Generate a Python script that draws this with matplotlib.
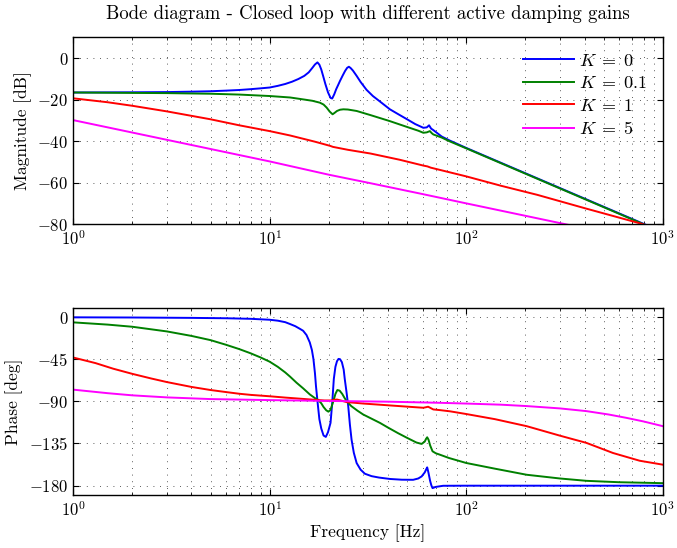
import matplotlib
matplotlib.use("Agg")
import matplotlib.pyplot as plt

plt.rcParams["font.family"] = "serif"
plt.rcParams["font.serif"] = ["cmr10", "DejaVu Serif"]
plt.rcParams["mathtext.fontset"] = "cm"
plt.rcParams["axes.formatter.use_mathtext"] = True
plt.rcParams["axes.unicode_minus"] = True

# Magnitude curves [dB]
f_mag_k0 = [1, 2, 3, 4, 5, 6, 7, 8, 9, 10, 11, 12, 13, 14, 15, 15.8, 16.5, 17.0, 17.5, 17.9,
            18.3, 18.7, 19.2, 19.8, 20.4, 20.8, 21.3, 21.8, 22.3, 22.8, 23.5, 24.2, 24.8, 25.3,
            25.8, 26.5, 27.7, 29, 31.1, 33.5, 35.9, 40.9, 45, 50, 55, 60.5, 63.0, 64.7, 66.3,
            68, 75, 82.7, 100, 200, 400, 800, 1000]
mag_k0 = [-16.6, -16.5, -16.4, -16.2, -16.0, -15.7, -15.4, -15.0, -14.6, -14.2, -13.4, -12.5,
          -11.4, -10.1, -8.6, -6.9, -4.7, -3.1, -2.1, -3.2, -5.5, -8.6, -12.5, -16.5, -19.2,
          -19.5, -17.5, -15.0, -13.0, -11.0, -8.5, -6.2, -4.7, -4.2, -4.8, -6.0, -8.6, -11.5,
          -15.3, -18.3, -20.5, -24.7, -27.0, -29.5, -31.8, -33.6, -33.4, -32.4, -34.0,
          -34.7, -37.8, -39.8, -43.3, -55.5, -67.7, -79.9, -83.8]

f_mag_k01 = [1, 2, 3, 5, 7, 10, 12.7, 15, 16.5, 18, 18.8, 19.5, 20.2, 20.9, 21.4, 22.0, 22.8,
             23.7, 25, 27.7, 32.6, 40.9, 50, 57, 60.5, 63, 65.3, 66.8, 68, 75, 82.7, 100, 200,
             400, 800, 1000]
mag_k01 = [-16.6, -16.8, -16.9, -17.2, -17.6, -18.3, -19.0, -20.0, -20.6, -21.5, -22.4, -23.9,
           -25.8, -27.1, -26.4, -25.5, -24.9, -24.7, -24.8, -25.5, -27.5, -30.4, -33.2, -35.0,
           -36.0, -35.8, -35.2, -36.2, -36.8, -38.3, -40.2, -43.5, -55.7, -67.9, -80.1, -84.0]

f_mag_k1 = [1, 1.5, 2, 3, 5, 7, 10, 12.7, 17, 20.3, 21, 25, 32.6, 45.9, 60.5, 63.5, 66, 100,
            150, 230, 400, 764, 1000]
mag_k1 = [-19.4, -21.3, -23.0, -25.7, -29.5, -32.4, -35.2, -37.3, -40.3, -42.3, -42.8, -44.2,
          -46.0, -49.0, -51.8, -52.2, -52.8, -57.0, -61.5, -65.9, -72.3, -79.6, -83.0]

f_mag_k5 = [1, 10, 20, 32.6, 60.5, 100, 318, 1000]
mag_k5 = [-29.9, -49.8, -56.2, -60.3, -65.6, -70.0, -80.0, -90.0]

# Phase curves [deg]
f_ph_k0 = [1, 2, 4, 6, 8, 10, 11, 12, 12.7, 13.5, 14.3, 14.8, 15.4, 16.0, 16.4, 16.7, 17.0,
           17.2, 17.55, 17.9, 18.3, 18.8, 19.3, 19.8, 20.4, 20.8, 21.2, 21.6, 22.0, 22.4, 22.8,
           23.3, 23.8, 24.1, 24.6, 25.1, 25.6, 26.1, 26.8, 27.7, 29, 30.5, 33, 36, 40.9, 47,
           53.7, 57, 59.3, 61.5, 62.8, 63.3, 64.2, 65.5, 66.5, 67.4, 70, 76.3, 100, 1000]
ph_k0 = [0, -0.2, -0.6, -1.0, -1.6, -2.6, -3.6, -5.2, -7.2, -9.5, -12.5, -14.4, -19.0, -26.9,
         -35, -44.8, -60, -73.5, -92, -109, -119, -126.5, -128, -123, -113, -92, -66, -53, -47,
         -44.5, -44.8, -48, -56, -66, -80, -95, -115, -131, -145, -156, -163, -167.4, -170,
         -171.5, -173, -173.8, -173.9, -172.5, -170.3, -166, -162, -160.6, -166, -175, -180,
         -182.8, -181.5, -180.3, -180.2, -180.2]

f_ph_k01 = [1, 1.5, 2, 3, 4, 5, 6, 7, 8, 9, 10, 11, 12, 12.7, 13.7, 14.8, 16, 17, 17.7, 18.3,
            18.8, 19.4, 19.9, 20.4, 21, 21.6, 22.1, 22.7, 23.4, 24.0, 24.6, 26, 28, 29.9, 33,
            36.4, 40, 45, 50, 55.8, 59.3, 61.5, 62.5, 63.3, 64.3, 65.5, 67.4, 70, 73.4, 81.8,
            100, 140, 203, 300, 409, 600, 1000]
ph_k01 = [-5.4, -7.8, -10.1, -15.1, -19.9, -24.4, -29.4, -34, -38.5, -43, -47.5, -53, -59,
          -63.5, -70, -76, -82.5, -86.5, -88.6, -92, -96, -99.5, -101, -99, -91, -82, -77.8,
          -78.5, -82, -86, -89.6, -95, -100, -104, -108.5, -113, -118, -124, -129, -134, -135.5,
          -133, -130, -128.4, -131, -137, -143.4, -145.5, -147, -150.6, -155.9, -162, -168.5,
          -172.5, -175, -176.5, -177.5]

f_ph_k1 = [1, 1.3, 1.6, 2, 2.5, 3, 4, 5, 6, 7, 8, 10, 12, 14.3, 17, 19, 20.5, 21.5, 22, 23,
           24.6, 30, 40.9, 50, 60.5, 62.5, 64, 65.5, 68, 73.4, 82.7, 100, 140, 203, 299, 409,
           558, 763, 1000]
ph_k1 = [-43, -49, -55, -60.5, -65.5, -69.3, -74.5, -77.8, -80, -81.8, -83, -84.5, -85.9,
         -87.1, -88.3, -89, -89, -88.2, -88, -89, -90.7, -92.3, -94.3, -95.6, -96.8, -96.2,
         -95.7, -96.8, -98.6, -99.3, -100.6, -103.5, -109, -116.5, -126.6, -134.4, -145.2,
         -153.5, -157.7]

f_ph_k5 = [1, 1.5, 2, 3, 5, 10, 20, 40, 73.4, 100, 150, 203, 300, 409, 530, 653, 800, 1000]
ph_k5 = [-77.4, -81.2, -83.5, -85.7, -87.5, -88.6, -89.5, -90.3, -91.5, -92.3, -93.5, -95,
         -97.5, -100.4, -104, -107.6, -111.5, -116.5]

labels = [r"$K\;=\;0$", r"$K\;=\;0.1$", r"$K\;=\;1$", r"$K\;=\;5$"]
colors = ["#0000ff", "#008000", "#ff0000", "#ff00ff"]

mag_series = [(f_mag_k0, mag_k0), (f_mag_k01, mag_k01), (f_mag_k1, mag_k1), (f_mag_k5, mag_k5)]
ph_series = [(f_ph_k0, ph_k0), (f_ph_k01, ph_k01), (f_ph_k1, ph_k1), (f_ph_k5, ph_k5)]

fig = plt.figure(figsize=(6.77, 5.48), dpi=100)
ax1 = fig.add_axes([0.108, 0.591, 0.871, 0.341])
ax2 = fig.add_axes([0.108, 0.097, 0.871, 0.341])

for (f, m), c, lab in zip(mag_series, colors, labels):
    ax1.semilogx(f, m, color=c, linewidth=1.4, label=lab)
for (f, p), c in zip(ph_series, colors):
    ax2.semilogx(f, p, color=c, linewidth=1.4)

# matlab-like sparse dotted grid
grid_style = dict(linestyle=(0, (1, 7)), color="0.15", linewidth=0.6)
for ax in (ax1, ax2):
    ax.set_xlim(1, 1000)
    ax.grid(True, which="major", **grid_style)
    ax.grid(True, which="minor", axis="x", **grid_style)
    ax.tick_params(which="both", direction="in", top=True, right=True, labelsize=12)
    ax.tick_params(which="major", length=4)
    ax.tick_params(which="minor", length=2.5)
    for s in ax.spines.values():
        s.set_linewidth(1.0)

ax1.set_ylim(-80, 10)
ax1.set_yticks([0, -20, -40, -60, -80])
ax1.set_ylabel("Magnitude [dB]", fontsize=12.5)
ax1.set_title("Bode diagram - Closed loop with different active damping gains",
              fontsize=13.5, pad=13)
ax1.legend(loc="upper right", frameon=False, fontsize=13, handlelength=2.8,
           handletextpad=0.3, labelspacing=0.36, borderaxespad=0.45)

ax2.set_ylim(-190, 10)
ax2.set_yticks([0, -45, -90, -135, -180])
ax2.set_ylabel("Phase [deg]", fontsize=12.5)
ax2.set_xlabel("Frequency [Hz]", fontsize=12.5)

fig.savefig("out.png", dpi=100)
